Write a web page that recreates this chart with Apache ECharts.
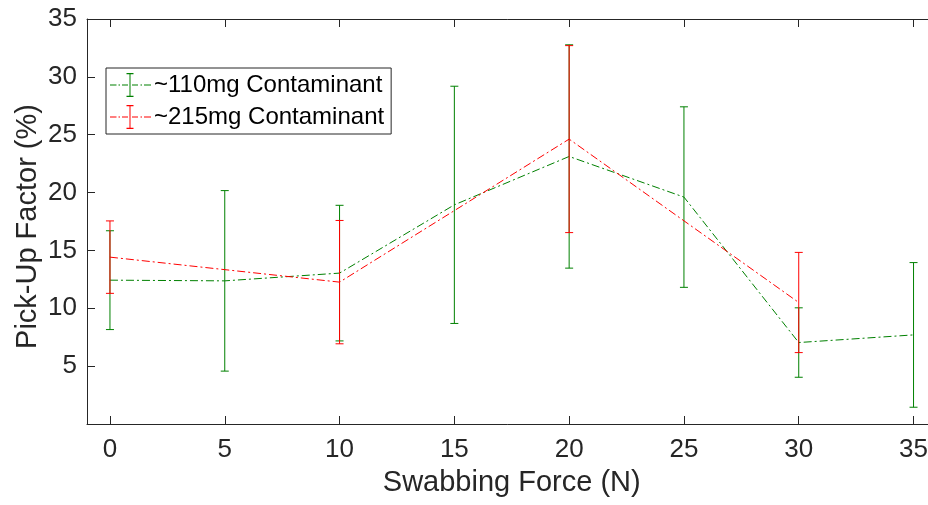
<!DOCTYPE html>
<html>
<head>
<meta charset="utf-8">
<script src="https://cdn.jsdelivr.net/npm/echarts@6/dist/echarts.min.js"></script>
<style>
  html, body { margin: 0; padding: 0; background: #fff; }
  #chart { width: 928px; height: 505px; }
</style>
</head>
<body>
<div id="chart"></div>
<script>
// Swabbing force (N) for each contaminant load
const force110 = [0, 5, 10, 15, 20, 25, 30, 35];
const mean110 = [12.43, 12.37, 13.04, 18.94, 23.12, 19.61, 7.04, 7.70];
const err110 = [4.27, 7.80, 5.86, 10.25, 9.65, 7.80, 3.00, 6.25];

const force215 = [0, 10, 20, 30];
const mean215 = [14.42, 12.26, 24.62, 10.50];
const err215 = [3.13, 5.33, 8.08, 4.33];

const xTicks = [0, 5, 10, 15, 20, 25, 30, 35];
const yTicks = [5, 10, 15, 20, 25, 30, 35];

const name110 = '~110mg Contaminant';
const name215 = '~215mg Contaminant';

const GREEN = '#008000';
const RED = '#ff0000';
const AXIS = '#262626';
const FONT = "'Liberation Sans', Arial, Helvetica, sans-serif";

// Legend glyph: dash-dot line with an error bar in the middle (41 x 24 box)
const legendIcon = 'path://' + [
  'M0,11.5h6.5v1h-6.5z',
  'M8.5,11.5h1.5v1h-1.5z',
  'M12,11.5h6v1h-6z',
  'M22,11.5h6v1h-6z',
  'M30.5,11.5h1.5v1h-1.5z',
  'M34,11.5h7v1h-7z',
  'M19.5,0h1v24h-1z',
  'M16.5,0h7v1.3h-7z',
  'M16.5,22.7h7v1.3h-7z'
].join(' ');

function linePoints(xs, ys) {
  return xs.map((x, i) => [x, ys[i]]);
}
function barPoints(xs, ys, es) {
  return xs.map((x, i) => [x, ys[i] - es[i], ys[i] + es[i]]);
}

function errorBar(color) {
  return function (params, api) {
    const x = api.value(0);
    const lo = api.coord([x, api.value(1)]);
    const hi = api.coord([x, api.value(2)]);
    const hw = 4;
    const style = { stroke: color, lineWidth: 1, fill: null };
    return {
      type: 'group',
      children: [
        { type: 'line', shape: { x1: lo[0], y1: lo[1], x2: hi[0], y2: hi[1] }, style },
        { type: 'line', shape: { x1: hi[0] - hw, y1: hi[1], x2: hi[0] + hw, y2: hi[1] }, style },
        { type: 'line', shape: { x1: lo[0] - hw, y1: lo[1], x2: lo[0] + hw, y2: lo[1] }, style }
      ]
    };
  };
}

const dashDot = [8, 3, 2, 3];

const tickStyle = { show: true, inside: true, length: 8, lineStyle: { color: AXIS, width: 1 } };
const lineStyleAxis = { show: true, onZero: false, lineStyle: { color: AXIS, width: 1 } };

const chart = echarts.init(document.getElementById('chart'), null, { renderer: 'canvas' });

chart.setOption({
  animation: false,
  backgroundColor: '#ffffff',
  textStyle: { fontFamily: FONT },
  // the plot box runs a little past the right edge of the canvas
  grid: { left: 87, width: 849.5, top: 19, bottom: 81, containLabel: false, outerBoundsMode: 'none' },
  legend: {
    data: [
      { name: name110, icon: legendIcon },
      { name: name215, icon: legendIcon }
    ],
    orient: 'vertical',
    left: 106,
    top: 68,
    itemWidth: 41,
    itemHeight: 24,
    itemGap: 8,
    padding: [5, 7, 5, 4],
    backgroundColor: '#ffffff',
    borderColor: AXIS,
    borderWidth: 1,
    borderRadius: 0,
    symbolKeepAspect: true,
    textStyle: { color: '#000000', fontSize: 24, fontFamily: FONT, padding: [0, 0, 0, -2] },
    selectedMode: false
  },
  xAxis: [
    {
      type: 'value',
      min: -1,
      max: 36,
      position: 'bottom',
      name: 'Swabbing Force (N)',
      nameLocation: 'middle',
      nameGap: 44,
      nameMoveOverlap: false,
      nameTextStyle: { color: AXIS, fontSize: 29, fontFamily: FONT },
      axisLine: lineStyleAxis,
      axisTick: Object.assign({}, tickStyle, { customValues: xTicks }),
      axisLabel: { customValues: xTicks, color: AXIS, fontSize: 26, fontFamily: FONT, margin: 13 },
      splitLine: { show: false }
    },
    {
      type: 'value',
      min: -1,
      max: 36,
      position: 'top',
      axisLine: lineStyleAxis,
      axisTick: Object.assign({}, tickStyle, { customValues: xTicks }),
      axisLabel: { show: false },
      splitLine: { show: false }
    }
  ],
  yAxis: [
    {
      type: 'value',
      min: 0,
      max: 35,
      position: 'left',
      name: 'Pick-Up Factor (%)',
      nameLocation: 'middle',
      nameGap: 45,
      nameMoveOverlap: false,
      nameTextStyle: { color: AXIS, fontSize: 29, fontFamily: FONT, padding: [0, 10, 0, 0] },
      axisLine: lineStyleAxis,
      axisTick: Object.assign({}, tickStyle, { customValues: yTicks }),
      axisLabel: { customValues: yTicks, color: AXIS, fontSize: 26, fontFamily: FONT, margin: 10 },
      splitLine: { show: false }
    },
    {
      type: 'value',
      min: 0,
      max: 35,
      position: 'right',
      axisLine: lineStyleAxis,
      axisTick: Object.assign({}, tickStyle, { customValues: yTicks }),
      axisLabel: { show: false },
      splitLine: { show: false }
    }
  ],
  series: [
    {
      name: name110,
      type: 'line',
      data: linePoints(force110, mean110),
      color: GREEN,
      symbol: 'none',
      lineStyle: { color: GREEN, width: 1, type: dashDot },
      itemStyle: { color: GREEN },
      z: 3
    },
    {
      name: name110 + ' bars',
      type: 'custom',
      data: barPoints(force110, mean110, err110),
      renderItem: errorBar(GREEN),
      encode: { x: 0, y: [1, 2] },
      z: 4
    },
    {
      name: name215,
      type: 'line',
      data: linePoints(force215, mean215),
      color: RED,
      symbol: 'none',
      lineStyle: { color: RED, width: 1, type: dashDot },
      itemStyle: { color: RED },
      z: 5
    },
    {
      name: name215 + ' bars',
      type: 'custom',
      data: barPoints(force215, mean215, err215),
      renderItem: errorBar(RED),
      encode: { x: 0, y: [1, 2] },
      z: 6
    }
  ]
});
</script>
</body>
</html>
